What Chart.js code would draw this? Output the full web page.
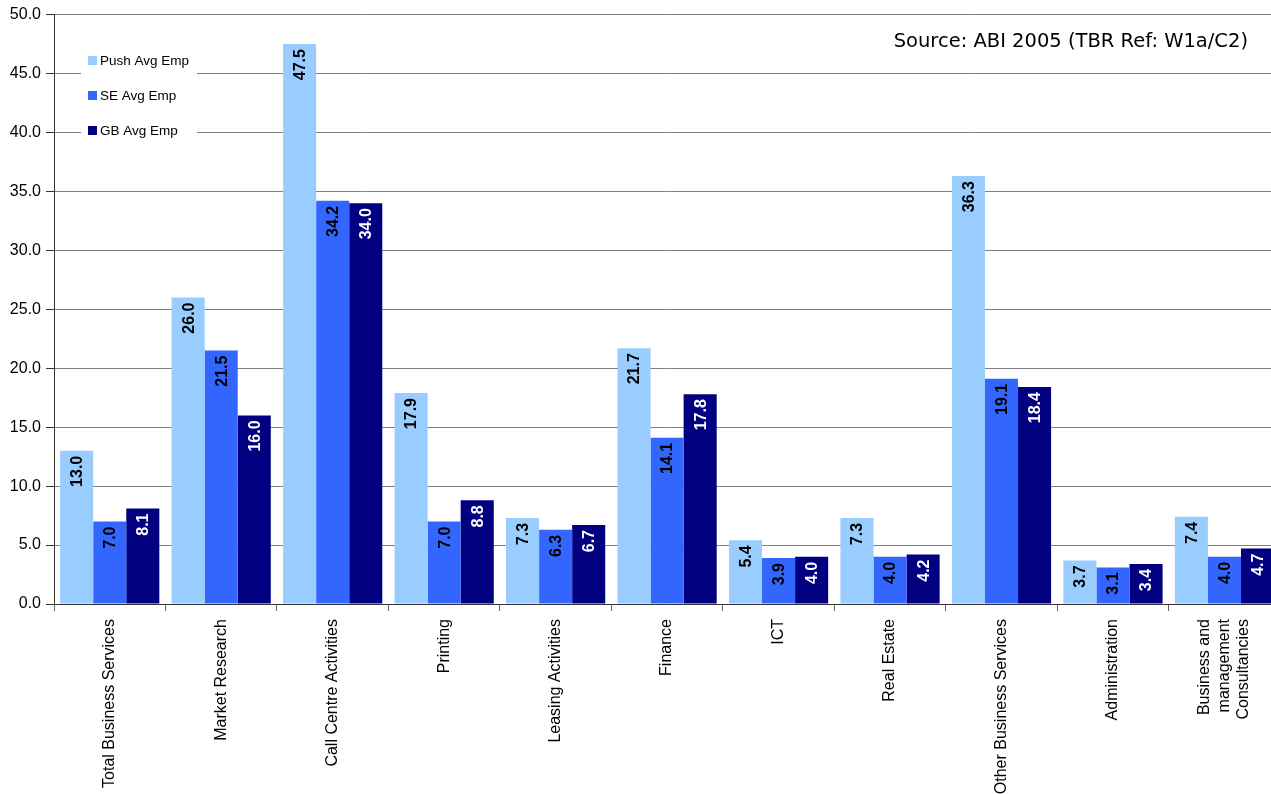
<!DOCTYPE html>
<html>
<head>
<meta charset="utf-8">
<script src="https://cdn.jsdelivr.net/npm/chart.js@4.4.1/dist/chart.umd.min.js"></script>
<style>
  html, body { margin: 0; padding: 0; background: #fff; overflow: hidden; }
  #wrap { width: 1291px; height: 794px; position: relative; }
</style>
</head>
<body>
<div id="wrap"><canvas id="chart"></canvas></div>
<script>
// data
const categories = [
    'Total Business Services', 'Market Research', 'Call Centre Activities', 'Printing',
    'Leasing Activities', 'Finance', 'ICT', 'Real Estate', 'Other Business Services',
    'Administration', ['Business and', 'management', 'Consultancies']
];
const pushAvgEmp = [13.0, 26.0, 47.5, 17.9, 7.3, 21.7, 5.4, 7.3, 36.3, 3.7, 7.4];
const seAvgEmp   = [7.0, 21.5, 34.2, 7.0, 6.3, 14.1, 3.9, 4.0, 19.1, 3.1, 4.0];
const gbAvgEmp   = [8.1, 16.0, 34.0, 8.8, 6.7, 17.8, 4.0, 4.2, 18.4, 3.4, 4.7];
const sourceNote = 'Source: ABI 2005 (TBR Ref: W1a/C2)';

const colors = ['#99ccff', '#3366ff', '#000080'];
const labelColors = ['#000', '#000', '#fff'];

// value labels drawn rotated inside the top of each bar
const barLabels = {
    id: 'barLabels',
    afterDatasetsDraw(chart) {
        const ctx = chart.ctx;
        ctx.save();
        ctx.font = 'bold 16px Arial, "Liberation Sans", sans-serif';
        chart.data.datasets.forEach((ds, i) => {
            const meta = chart.getDatasetMeta(i);
            meta.data.forEach((bar, j) => {
                ctx.save();
                ctx.translate(bar.x, bar.y + 5);
                ctx.rotate(-Math.PI / 2);
                ctx.fillStyle = labelColors[i];
                ctx.textAlign = 'right';
                ctx.textBaseline = 'middle';
                ctx.fillText(ds.data[j].toFixed(1), 0, 1);
                ctx.restore();
            });
        });
        ctx.restore();
    }
};

// center multi-line rotated category labels on their tick
const centerMultiLine = {
    id: 'centerMultiLine',
    beforeDraw(chart) {
        const items = chart.scales.x.getLabelItems();
        items.forEach(it => {
            if (Array.isArray(it.label) && !it._shifted) {
                it.options.translation[0] -= (it.label.length - 1) * it.font.lineHeight / 2;
                it._shifted = true;
            }
        });
    }
};

// legend box inside the plot + source note
const innerLegend = {
    id: 'innerLegend',
    afterDraw(chart) {
        const ctx = chart.ctx;
        ctx.save();
        ctx.fillStyle = '#fff';
        ctx.fillRect(81, 46, 116, 100);
        ctx.font = '13.5px Arial, "Liberation Sans", sans-serif';
        ctx.textBaseline = 'middle';
        chart.data.datasets.forEach((ds, i) => {
            const y = 61 + i * 35;
            ctx.fillStyle = ds.backgroundColor;
            ctx.fillRect(88, y - 5, 9, 9);
            ctx.fillStyle = '#000';
            ctx.fillText(ds.label, 100, y);
        });
        ctx.font = '19.5px "DejaVu Sans", Verdana, sans-serif';
        ctx.textAlign = 'right';
        ctx.textBaseline = 'alphabetic';
        ctx.fillText(sourceNote, 1248, 47);
        ctx.restore();
    }
};

new Chart(document.getElementById('chart'), {
    type: 'bar',
    data: {
        labels: categories,
        datasets: [
            { label: 'Push Avg Emp', data: pushAvgEmp, backgroundColor: colors[0] },
            { label: 'SE Avg Emp', data: seAvgEmp, backgroundColor: colors[1] },
            { label: 'GB Avg Emp', data: gbAvgEmp, backgroundColor: colors[2] }
        ]
    },
    options: {
        responsive: true,
        maintainAspectRatio: false,
        animation: false,
        devicePixelRatio: 1,
        categoryPercentage: 0.89,
        barPercentage: 1.0,
        layout: { padding: { top: 14, right: 0, left: 0, bottom: 0 } },
        plugins: {
            legend: { display: false },
            tooltip: { enabled: false }
        },
        scales: {
            x: {
                afterFit: s => { s.height = 190; },
                grid: { offset: true, drawOnChartArea: false, drawTicks: true, tickLength: 7, color: '#666' },
                border: { color: '#333', width: 1 },
                ticks: {
                    maxRotation: 90, minRotation: 90, autoSkip: false,
                    color: '#000', padding: 8,
                    font: { family: 'Arial, "Liberation Sans", sans-serif', size: 16, lineHeight: 1.22 }
                }
            },
            y: {
                min: 0, max: 50,
                afterFit: s => { s.width = 54; },
                grid: { color: '#808080', lineWidth: 1, drawTicks: true, tickLength: 8, tickColor: '#333' },
                border: { color: '#333', width: 1 },
                ticks: {
                    stepSize: 5, color: '#000', padding: 5,
                    callback: v => v.toFixed(1),
                    font: { family: 'Arial, "Liberation Sans", sans-serif', size: 16 }
                }
            }
        }
    },
    plugins: [barLabels, centerMultiLine, innerLegend]
});
</script>
</body>
</html>
